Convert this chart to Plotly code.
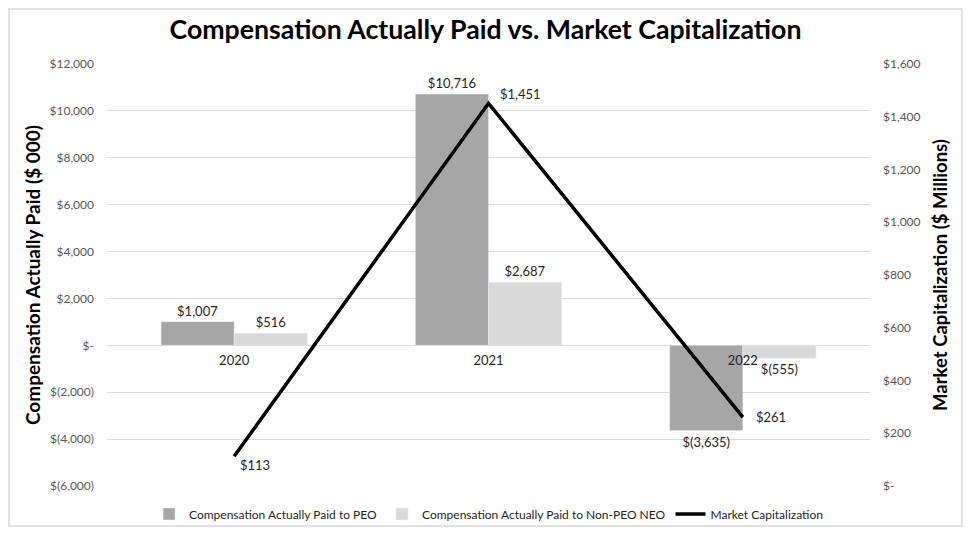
import plotly.graph_objects as go

years = ["2020", "2021", "2022"]
cap_peo = [1007, 10716, -3635]
cap_non_peo = [516, 2687, -555]
market_cap = [113, 1451, 261]

peo_labels = ["$1,007", "$10,716", "$(3,635)"]
non_peo_labels = ["$516", "$2,687", "$(555)"]
mcap_labels = ["$113", "$1,451", "$261"]

left_ticks = [-6000, -4000, -2000, 0, 2000, 4000, 6000, 8000, 10000, 12000]
left_ticktext = ["$(6,000)", "$(4,000)", "$(2,000)", "$-", "$2,000", "$4,000",
                 "$6,000", "$8,000", "$10,000", "$12,000"]
right_ticks = [0, 200, 400, 600, 800, 1000, 1200, 1400, 1600]
right_ticktext = ["$-", "$200", "$400", "$600", "$800", "$1,000", "$1,200",
                  "$1,400", "$1,600"]

FONT = "Lato"

fig = go.Figure()
fig.add_trace(go.Bar(
    x=years, y=cap_peo, name="Compensation Actually Paid to PEO",
    marker_color="#A6A6A6", text=peo_labels, textposition="outside",
    textfont=dict(size=13, color="#262626", family=FONT), cliponaxis=False,
))
fig.add_trace(go.Bar(
    x=years, y=cap_non_peo, name="Compensation Actually Paid to Non-PEO NEO",
    marker_color="#D9D9D9", text=non_peo_labels, textposition="outside",
    textfont=dict(size=13, color="#262626", family=FONT), cliponaxis=False,
))
fig.add_trace(go.Scatter(
    x=years, y=market_cap, name="Market Capitalization", yaxis="y2",
    mode="lines", line=dict(color="black", width=3.5),
))

# data labels for the market-cap line, offset to the right of each point
# (x given as the category index, since the category names look numeric)
label_shifts = [(4, -9), (9, 9), (11, 0)]
annotations = []
for i, (val, lab, (dx, dy)) in enumerate(zip(market_cap, mcap_labels, label_shifts)):
    annotations.append(dict(
        x=i, y=val, xref="x", yref="y2", text=lab, showarrow=False,
        xanchor="left", yanchor="middle", xshift=dx, yshift=dy,
        font=dict(size=13, color="#262626", family=FONT),
    ))

fig.update_layout(
    width=955, height=519,
    margin=dict(l=99, r=93, t=56, b=41),
    paper_bgcolor="white", plot_bgcolor="white",
    font=dict(family=FONT, color="#595959"),
    title=dict(text="<b>Compensation Actually Paid vs. Market Capitalization</b>",
               x=0.5, xanchor="center", y=0.958, yanchor="middle",
               font=dict(size=26.7, color="black", family=FONT)),
    barmode="group", bargap=0.425, bargroupgap=0,
    xaxis=dict(type="category", categoryorder="array", categoryarray=years,
               range=[-0.5, len(years) - 0.5],
               anchor="free", position=1/3, showline=False, ticks="",
               tickfont=dict(size=13, color="#262626"), showgrid=False,
               zeroline=False, automargin=False, ticklabelstandoff=6),
    yaxis=dict(range=[-6000, 12000], tickvals=left_ticks, ticktext=left_ticktext,
               showgrid=True, gridcolor="#D9D9D9", gridwidth=1, zeroline=False,
               tickfont=dict(size=12, color="#595959"), ticks="",
               automargin=False, ticklabelstandoff=12,
               title=dict(text="<b>Compensation Actually Paid ($ 000)</b>",
                          font=dict(size=19, color="black"), standoff=3)),
    yaxis2=dict(range=[0, 1600], tickvals=right_ticks, ticktext=right_ticktext,
                overlaying="y", side="right", showgrid=False, zeroline=False,
                tickfont=dict(size=12, color="#595959"), ticks="",
                automargin=False, ticklabelstandoff=12,
                title=dict(text="<b>Market Capitalization ($ Millions)</b>",
                           font=dict(size=18.5, color="black"), standoff=14)),
    legend=dict(orientation="h", x=0.5, xanchor="center",
                yref="container", y=0.025, yanchor="middle",
                bgcolor="rgba(0,0,0,0)",
                font=dict(size=12, color="#262626"), itemwidth=30,
                traceorder="normal"),
    annotations=annotations,
    shapes=[dict(type="rect", xref="paper", yref="paper",
                 x0=-98/763, x1=855/763, y0=-40/422, y1=477/422,
                 line=dict(color="#D9D9D9", width=1.5), layer="below")],
)

fig.write_html("out.html")
